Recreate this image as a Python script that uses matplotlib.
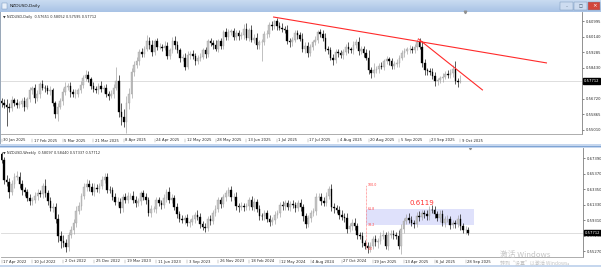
import numpy as np
import matplotlib
matplotlib.use("Agg")
from matplotlib import pyplot as plt
from matplotlib import transforms as mtransforms
from matplotlib.patches import Rectangle

# ---------------- daily NZDUSD, 30 Jan 2025 .. 9 Oct 2025 ----------------
daily_first_open = 0.5660
daily_close = [
    0.5650, 0.5640,
    0.5630, 0.5625, 0.5665, 0.5650, 0.5640,
    0.5645, 0.5660, 0.5630, 0.5670, 0.5720,
    0.5730, 0.5675, 0.5700, 0.5755, 0.5735,
    0.5730, 0.5715, 0.5720, 0.5650, 0.5590,
    0.5630, 0.5660, 0.5710, 0.5740, 0.5745,
    0.5710, 0.5700, 0.5700, 0.5720, 0.5750,
    0.5790, 0.5805, 0.5780, 0.5745, 0.5725,
    0.5720, 0.5745, 0.5725, 0.5735, 0.5700,
    0.5690, 0.5700, 0.5735, 0.5770, 0.5600,
    0.5570, 0.5545, 0.5650, 0.5700, 0.5820,
    0.5860, 0.5880, 0.5930, 0.5920, 0.5950,
    0.5990, 0.5970, 0.5930, 0.5990, 0.5960,
    0.5960, 0.5955, 0.5965, 0.5910, 0.5940,
    0.5990, 0.5970, 0.5940, 0.5900, 0.5900,
    0.5850, 0.5915, 0.5920, 0.5910, 0.5880,
    0.5900, 0.5905, 0.5940, 0.5920, 0.5990,
    0.5980, 0.5970, 0.5950, 0.5990, 0.5965,
    0.6040, 0.6015, 0.6040, 0.6045, 0.6015,
    0.6035, 0.6020, 0.6025, 0.6060, 0.6010,
    0.6050, 0.6000, 0.6010, 0.5970, 0.5985,
    0.5985, 0.6030, 0.6030, 0.6080, 0.6075,
    0.6100, 0.6075, 0.6065, 0.6060, 0.6050,
    0.5990, 0.5985, 0.6000, 0.6035, 0.6025,
    0.6005, 0.5950, 0.5965, 0.5925, 0.5960,
    0.5985, 0.6000, 0.6040, 0.6030, 0.6010,
    0.5950, 0.5940, 0.5900, 0.5885, 0.5930,
    0.5925, 0.5915, 0.5930, 0.5960, 0.5945,
    0.5940, 0.5970, 0.5985, 0.5935, 0.5950,
    0.5925, 0.5900, 0.5830, 0.5815, 0.5830,
    0.5835, 0.5855, 0.5850, 0.5880, 0.5890,
    0.5880, 0.5855, 0.5865, 0.5870, 0.5900,
    0.5925, 0.5935, 0.5945, 0.5950, 0.5940,
    0.5960, 0.5985, 0.5960, 0.5870, 0.5830,
    0.5825, 0.5820, 0.5800, 0.5770, 0.5775,
    0.5785, 0.5795, 0.5810, 0.5805, 0.5815,
    0.5840, 0.5770, 0.5765, 0.57712,
]
# wick lengths in pips
daily_up_wick = [
    15, 20,
    30, 20, 25, 15, 20,
    15, 20, 25, 15, 20,
    15, 25, 20, 10, 20,
    15, 20, 25, 15, 10,
    20, 15, 20, 25, 15,
    20, 15, 25, 15, 20,
    15, 25, 20, 15, 20,
    20, 15, 25, 15, 20,
    15, 20, 20, 80, 35,
    50, 45, 40, 30, 25,
    20, 25, 15, 25, 15,
    35, 25, 30, 15, 20,
    20, 15, 25, 20, 15,
    25, 30, 20, 15, 20,
    25, 20, 15, 20, 15,
    15, 20, 15, 20, 15,
    20, 15, 25, 15, 20,
    15, 25, 20, 15, 20,
    15, 20, 15, 25, 30,
    15, 30, 20, 25, 15,
    20, 15, 20, 15, 20,
    10, 20, 20, 25, 15,
    30, 20, 15, 15, 20,
    15, 30, 20, 20, 15,
    15, 20, 15, 20, 25,
    25, 15, 20, 20, 15,
    20, 15, 20, 15, 25,
    15, 20, 20, 30, 15,
    15, 20, 40, 20, 40,
    20, 15, 20, 15, 20,
    15, 20, 15, 20, 15,
    15, 20, 15, 20, 15,
    15, 20, 25, 30, 25,
    15, 20, 25, 20, 15,
    15, 20, 15, 20, 25,
    20, 40, 15, 34,
]
daily_dn_wick = [
    20, 15,
    109, 25, 20, 15, 20,
    20, 15, 25, 15, 15,
    20, 25, 15, 20, 15,
    20, 15, 20, 15, 25,
    40, 15, 20, 15, 20,
    25, 15, 20, 15, 15,
    15, 20, 15, 20, 15,
    15, 20, 15, 20, 15,
    25, 15, 20, 15, 30,
    40, 30, 60, 35, 20,
    20, 15, 20, 15, 15,
    15, 25, 20, 15, 20,
    15, 20, 15, 20, 15,
    15, 20, 15, 25, 20,
    20, 15, 20, 15, 20,
    15, 20, 15, 20, 15,
    15, 20, 15, 20, 15,
    20, 15, 20, 15, 20,
    15, 20, 15, 20, 15,
    20, 15, 20, 25, 20,
    105, 15, 20, 15, 20,
    15, 20, 15, 20, 15,
    15, 25, 20, 15, 20,
    15, 20, 25, 20, 15,
    20, 15, 20, 15, 20,
    15, 20, 15, 25, 15,
    20, 15, 20, 15, 20,
    15, 20, 15, 20, 15,
    20, 15, 20, 25, 20,
    15, 20, 15, 20, 15,
    20, 15, 20, 15, 20,
    15, 20, 15, 20, 15,
    15, 20, 15, 20, 25,
    20, 15, 20, 25, 20,
    15, 20, 15, 20, 15,
    20, 15, 25, 6,
]
daily_date_labels = ["30 Jan 2025", "17 Feb 2025", "5 Mar 2025", "21 Mar 2025",
                     "8 Apr 2025", "24 Apr 2025", "12 May 2025", "28 May 2025",
                     "13 Jun 2025", "1 Jul 2025", "17 Jul 2025", "4 Aug 2025",
                     "20 Aug 2025", "5 Sep 2025", "23 Sep 2025", "9 Oct 2025"]
daily_label_step = 12
daily_price_ticks = [0.60995, 0.60140, 0.59285, 0.58430, 0.57575, 0.56720, 0.55865, 0.55010]
daily_header = "\u25bc NZDUSD,Daily  0.57651 0.58052 0.57595 0.57712"

# trend lines drawn on the daily chart: (bar index, price)
trend_a_x, trend_a_y = [106.7, 213.7], [0.6124, 0.5871]
trend_b_x, trend_b_y = [163.5, 188.6], [0.6003, 0.5722]

# ---------------- weekly NZDUSD, 17 Apr 2022 .. 5 Oct 2025 ----------------
weekly_first_open = 0.6790
weekly_close = [
    0.6720, 0.6460, 0.6430, 0.6300, 0.6400, 0.6500, 0.6500, 0.6400, 0.6320, 0.6300,
    0.6220, 0.6180, 0.6190, 0.6250, 0.6280, 0.6270, 0.6380, 0.6280, 0.6180, 0.6090,
    0.6100, 0.5950, 0.5720, 0.5660, 0.5630, 0.5580, 0.5740, 0.5810, 0.5890, 0.6050,
    0.6120, 0.6250, 0.6360, 0.6400, 0.6370, 0.6300, 0.6350, 0.6340, 0.6380, 0.6460,
    0.6490, 0.6330, 0.6320, 0.6240, 0.6170, 0.6170, 0.6090, 0.6230, 0.6200, 0.6250,
    0.6250, 0.6200, 0.6160, 0.6180, 0.6280, 0.6230, 0.6190, 0.6020, 0.6080, 0.6080,
    0.6190, 0.6150, 0.6130, 0.6220, 0.6300, 0.6200, 0.6220, 0.6100, 0.6010, 0.5950,
    0.5930, 0.5960, 0.5890, 0.5910, 0.5950, 0.6000, 0.5970, 0.5880, 0.5840, 0.5830,
    0.5950, 0.5920, 0.6030, 0.6080, 0.6190, 0.6140, 0.6230, 0.6290, 0.6320, 0.6230,
    0.6240, 0.6110, 0.6100, 0.6120, 0.6100, 0.6110, 0.6190, 0.6100, 0.6170, 0.6080,
    0.5990, 0.5980, 0.6020, 0.5950, 0.5910, 0.5930, 0.6000, 0.6020, 0.6130, 0.6110,
    0.6150, 0.6100, 0.6140, 0.6130, 0.6090, 0.6150, 0.6100, 0.5980, 0.5880, 0.5960,
    0.6020, 0.6050, 0.6230, 0.6240, 0.6180, 0.6160, 0.6250, 0.6340, 0.6100, 0.6090,
    0.6070, 0.6000, 0.5970, 0.5960, 0.5820, 0.5850, 0.5900, 0.5850, 0.5740, 0.5730,
    0.5630, 0.5600, 0.5570, 0.5590, 0.5690, 0.5650, 0.5660, 0.5730, 0.5740, 0.5590,
    0.5740, 0.5750, 0.5740, 0.5720, 0.5600, 0.5820, 0.5920, 0.5960, 0.5940, 0.5900,
    0.5880, 0.5990, 0.5970, 0.6020, 0.6010, 0.5980, 0.6070, 0.6060, 0.6010, 0.5960,
    0.6010, 0.5890, 0.5950, 0.5950, 0.5870, 0.5890, 0.5880, 0.5950, 0.5860, 0.5800,
    0.5810, 0.57712,
]
weekly_up_wick = [
    30, 40, 60, 50, 50, 40, 75, 60, 50, 40,
    40, 50, 40, 50, 60, 40, 30, 90, 40, 50,
    60, 50, 60, 70, 80, 60, 40, 50, 60, 70,
    50, 40, 50, 70, 60, 50, 60, 50, 40, 50,
    50, 60, 50, 40, 50, 60, 50, 40, 60, 50,
    40, 60, 50, 40, 30, 50, 60, 40, 50, 40,
    40, 50, 40, 50, 40, 60, 50, 40, 50, 40,
    50, 40, 50, 40, 50, 40, 60, 50, 40, 50,
    40, 50, 40, 50, 40, 50, 40, 40, 50, 60,
    50, 60, 40, 50, 40, 50, 40, 60, 50, 40,
    50, 40, 50, 40, 50, 40, 50, 40, 40, 50,
    40, 50, 40, 50, 40, 50, 60, 40, 50, 40,
    50, 40, 50, 40, 50, 60, 50, 40, 60, 50,
    40, 50, 60, 50, 60, 40, 50, 60, 50, 40,
    50, 40, 50, 60, 40, 50, 40, 50, 60, 40,
    50, 60, 50, 40, 80, 60, 40, 50, 60, 50,
    40, 50, 60, 50, 40, 60, 40, 60, 50, 40,
    50, 60, 40, 50, 40, 50, 40, 50, 60, 40,
    50, 34,
]
weekly_dn_wick = [
    40, 60, 50, 85, 40, 50, 40, 50, 60, 50,
    40, 50, 50, 40, 50, 40, 50, 40, 50, 40,
    50, 60, 70, 95, 50, 68, 50, 40, 60, 50,
    40, 50, 40, 50, 60, 40, 50, 40, 50, 40,
    40, 50, 40, 50, 40, 50, 60, 50, 40, 50,
    40, 50, 60, 40, 50, 40, 50, 40, 50, 40,
    50, 40, 50, 40, 50, 40, 50, 40, 50, 40,
    40, 50, 40, 50, 40, 50, 40, 50, 40, 50,
    40, 50, 40, 50, 40, 50, 40, 50, 40, 50,
    40, 50, 60, 40, 50, 40, 50, 40, 50, 40,
    50, 40, 50, 40, 50, 40, 50, 40, 50, 40,
    50, 40, 50, 40, 50, 40, 50, 60, 50, 40,
    50, 40, 50, 40, 50, 40, 50, 40, 50, 60,
    40, 50, 40, 50, 60, 40, 50, 40, 50, 40,
    50, 40, 60, 50, 40, 50, 80, 40, 50, 40,
    50, 40, 50, 40, 50, 115, 50, 40, 50, 40,
    50, 40, 50, 40, 50, 40, 50, 40, 50, 40,
    50, 40, 50, 40, 50, 40, 50, 40, 50, 40,
    50, 38,
]
weekly_date_labels = ["17 Apr 2022", "10 Jul 2022", "2 Oct 2022", "25 Dec 2022",
                      "19 Mar 2023", "11 Jun 2023", "3 Sep 2023", "26 Nov 2023",
                      "18 Feb 2024", "12 May 2024", "4 Aug 2024", "27 Oct 2024",
                      "19 Jan 2025", "13 Apr 2025", "6 Jul 2025", "28 Sep 2025"]
weekly_label_step = 12
weekly_price_ticks = [0.67390, 0.65370, 0.63350, 0.61330, 0.59310, 0.57290, 0.55270]
weekly_header = "\u25bc NZDUSD,Weekly  0.58097 0.58440 0.57337 0.57712"

# fibonacci retracement + zone on the weekly chart
fib_bar, fib_low, fib_high = 141.4, 0.5556, 0.6390
fib_levels = [0.0, 38.2, 61.8, 100.0]
zone_end_bar = 183.3
zone_label, zone_label_bar, zone_label_price = "0.6119", 163.0, 0.6150

W, H = 601, 267
plt.rcParams["font.family"] = ["DejaVu Sans"]
fig = plt.figure(figsize=(W / 100, H / 100), dpi=100)
fig.patch.set_facecolor("white")

UP_FILL, UP_EDGE, DOWN = "#c4c4c4", "#9c9c9c", "#000000"
TXT = "#2a2a2a"
FS = 2.7


def px_axes(x0, y0, x1, y1, **kw):
    return fig.add_axes([x0 / W, 1 - y1 / H, (x1 - x0) / W, (y1 - y0) / H], **kw)


def px_rect(x0, y0, x1, y1, **kw):
    fig.add_artist(Rectangle((x0 / W, 1 - y1 / H), (x1 - x0) / W, (y1 - y0) / H,
                             transform=fig.transFigure, **kw))


def candles(ax, first_open, close, up_w, dn_w):
    c = np.array(close)
    o = np.r_[first_open, c[:-1]]
    hi = np.maximum(o, c) + np.array(up_w) / 1e4
    lo = np.minimum(o, c) - np.array(dn_w) / 1e4
    idx = np.arange(len(c))
    up = c >= o
    ax.vlines(idx[up], lo[up], hi[up], color=UP_EDGE, lw=0.45, zorder=3)
    ax.vlines(idx[~up], lo[~up], hi[~up], color=DOWN, lw=0.45, zorder=3)
    body = np.maximum(np.abs(c - o), 0.00015)
    base = np.minimum(o, c)
    ax.bar(idx[up], body[up], bottom=base[up], width=0.62, color=UP_FILL,
           edgecolor=UP_EDGE, linewidth=0.25, zorder=4)
    ax.bar(idx[~up], body[~up], bottom=base[~up], width=0.62, color=DOWN,
           edgecolor=DOWN, linewidth=0.25, zorder=4)
    return c[-1]


def style_chart(ax, ticks, last, header, dates, step, lab_y, tick_y):
    for s in ("top", "left"):
        ax.spines[s].set_visible(False)
    ax.spines["right"].set_color("#808080")
    ax.spines["bottom"].set_color("#a0a0a0")
    for s in ("right", "bottom"):
        ax.spines[s].set_linewidth(0.6)
    ax.yaxis.tick_right()
    ax.set_yticks(ticks)
    ax.set_yticklabels([f"{t:.5f}" for t in ticks])
    ax.tick_params(axis="y", length=1.5, width=0.4, pad=1.2, labelsize=FS,
                   colors=TXT)
    ax.set_xticks([])
    ax.axhline(last, color="#d8d8d8", lw=0.6, zorder=1)
    ax.text(1.003, last, f"{last:.5f}", transform=mtransforms.blended_transform_factory(
        ax.transAxes, ax.transData), ha="left", va="center", fontsize=FS,
        color="white", bbox=dict(boxstyle="square,pad=0.25", fc="black", ec="black"))
    ax.text(0.004, 0.975, header, transform=ax.transAxes, ha="left", va="top",
            fontsize=2.5, color=TXT)
    bl = mtransforms.blended_transform_factory(ax.transData, ax.transAxes)
    for k, lab in enumerate(dates):
        xb = k * step
        ax.plot([xb, xb], tick_y, transform=bl, color="#9a9a9a", lw=0.35,
                clip_on=False)
        ax.text(xb + 0.6, lab_y, lab, transform=bl, ha="left", va="center",
                fontsize=FS, color=TXT, clip_on=False)


# ---------- window chrome ----------
tb = px_axes(0, 0, W, 12)
grad = np.linspace(0, 1, 24).reshape(-1, 1)
tb.imshow(grad, aspect="auto", cmap=matplotlib.colors.LinearSegmentedColormap.from_list(
    "tb", ["#c9dbf1", "#a9c3e5"]), extent=(0, 1, 0, 1))
tb.set_axis_off()
tb.text(0.016, 0.5, "NZDUSD,Daily", transform=tb.transAxes, ha="left", va="center",
        fontsize=3.2, color="#1a1a1a")
tb.add_patch(Rectangle((0.003, 0.25), 0.008, 0.5, transform=tb.transAxes,
                       fc="#e8f0fa", ec="#6d8fb8", lw=0.3))
for x0, fc in ((0.932, "#cddcf0"), (0.955, "#cddcf0"), (0.978, "#d2463c")):
    tb.add_patch(Rectangle((x0, 0.18), 0.021, 0.64, transform=tb.transAxes,
                           fc=fc, ec="#6f8fb5", lw=0.3))
tb.text(0.9885, 0.5, "\u00d7", transform=tb.transAxes, ha="center", va="center",
        fontsize=4, color="white")
tb.text(0.9425, 0.45, "\u2013", transform=tb.transAxes, ha="center", va="center",
        fontsize=3, color="#34495e")
tb.text(0.9655, 0.5, "\u25a1", transform=tb.transAxes, ha="center", va="center",
        fontsize=3, color="#34495e")

px_rect(0, 144, W, 148, fc="#c6d7ee", ec="none")
px_rect(0, 146, W, 147, fc="#7fa4d4", ec="none")
px_rect(0, 265, W, H, fc="#c6d7ee", ec="none")
px_rect(0, 12, 1, 144, fc="#9aa8b8", ec="none")

# ---------- daily chart ----------
ax1 = px_axes(1, 12, 582, 134)
ax1.set_facecolor("white")
last_d = candles(ax1, daily_first_open, daily_close, daily_up_wick, daily_dn_wick)
ax1.plot(trend_a_x, trend_a_y, color="#ff2a2a", lw=0.8, zorder=5)
ax1.plot(trend_b_x, trend_b_y, color="#ff2a2a", lw=0.8, zorder=5)
ax1.set_xlim((1 - 1.5) / 2.55, (582 - 1.5) / 2.55)
ax1.set_ylim(0.57712 - (134 - 81) * 0.0005516, 0.57712 + (81 - 12) * 0.0005516)
style_chart(ax1, daily_price_ticks, last_d, daily_header, daily_date_labels,
            daily_label_step, -6.5 / 122, (-4.5 / 122, -8 / 122))
ax1.plot([len(daily_close) + 0.8], [1.0], marker="v", ms=1.8, color="#909090",
         transform=mtransforms.blended_transform_factory(ax1.transData, ax1.transAxes),
         clip_on=False)

# ---------- weekly chart ----------
ax2 = px_axes(1, 148, 583, 257)
ax2.set_facecolor("white")
last_w = candles(ax2, weekly_first_open, weekly_close, weekly_up_wick, weekly_dn_wick)
ax2.set_xlim((1 - 1.5) / 2.578, (583 - 1.5) / 2.578)
ax2.set_ylim(0.57712 - (257 - 232.5) * 0.001303, 0.57712 + (232.5 - 148) * 0.001303)

fib_price = [fib_low + lv / 100 * (fib_high - fib_low) for lv in fib_levels]
zone_lo, zone_hi = fib_price[1], fib_price[2]
ax2.add_patch(Rectangle((fib_bar, zone_lo), zone_end_bar - fib_bar, zone_hi - zone_lo,
                        fc="#dfe1fb", ec="none", zorder=2))
ax2.vlines(fib_bar, fib_price[0], fib_price[-1], colors="#ff5a5a", lw=0.5,
           linestyles=(0, (1, 1)), zorder=5)
for lv, pr in zip(fib_levels, fib_price):
    ax2.text(fib_bar + 0.5, pr, f"{lv:.1f}", ha="left", va="center", fontsize=2.3,
             color="#ff4040", zorder=6)
ax2.text(zone_label_bar, zone_label_price, zone_label, ha="center", va="center",
         fontsize=5, color="#ff3030", zorder=6)
style_chart(ax2, weekly_price_ticks, last_w, weekly_header, weekly_date_labels,
            weekly_label_step, -4.5 / 109, (-2.5 / 109, -6 / 109))
ax2.plot([len(weekly_close) - 0.2], [1.0], marker="v", ms=1.8, color="#909090",
         transform=mtransforms.blended_transform_factory(ax2.transData, ax2.transAxes),
         clip_on=False)

# Windows activation watermark
fig.text(500 / W, 1 - 255 / H, "激活 Windows", fontsize=5.6, color="#c4c4c4",
         ha="left", va="center", family=["Noto Sans CJK SC", "DejaVu Sans"])
fig.text(500 / W, 1 - 263.5 / H, "转到“设置”以激活 Windows。", fontsize=3.6,
         color="#c4c4c4", ha="left", va="center",
         family=["Noto Sans CJK SC", "DejaVu Sans"])

fig.savefig("out.png", dpi=100, facecolor="white")
